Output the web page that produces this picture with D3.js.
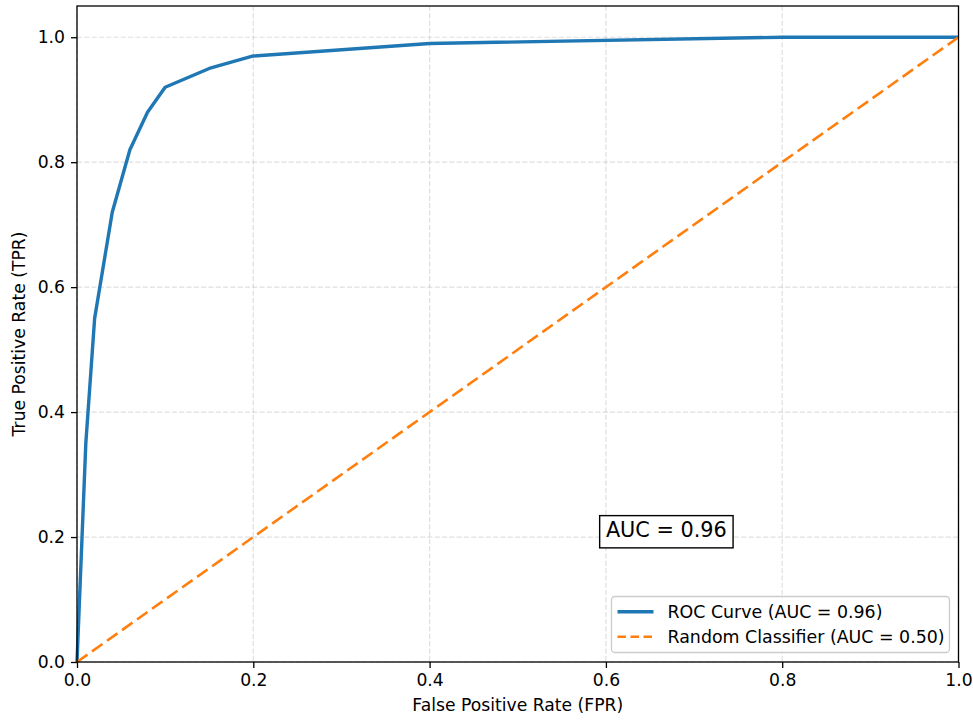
<!DOCTYPE html>
<html>
<head>
<meta charset="utf-8">
<script src="https://cdn.jsdelivr.net/npm/d3@7"></script>
<style>
  body { margin: 0; background: #fff; }
  text { font-family: "DejaVu Sans", sans-serif; fill: #000; }
</style>
</head>
<body>
<svg id="chart" width="973" height="720"></svg>
<script>
// ROC curve operating points
const fpr = [0, 0.01, 0.02, 0.04, 0.06, 0.08, 0.10, 0.15, 0.20, 0.40, 0.80, 1.0];
const tpr = [0, 0.35, 0.55, 0.72, 0.82, 0.88, 0.92, 0.95, 0.97, 0.99, 1.0, 1.0];
// chance diagonal
const randomFpr = [0, 1];
const randomTpr = [0, 1];
// summary values
const rocAuc = 0.96;
const randomAuc = 0.50;
const tickValues = [0, 0.2, 0.4, 0.6, 0.8, 1.0];
const tickLabels = ["0.0", "0.2", "0.4", "0.6", "0.8", "1.0"];
const seriesNames = ["ROC Curve (AUC = " + rocAuc.toFixed(2) + ")",
                     "Random Classifier (AUC = " + randomAuc.toFixed(2) + ")"];
const seriesColors = ["#1f77b4", "#ff7f0e"];

const svg = d3.select("#chart");
const m = { left: 77, right: 958.5, top: 6, bottom: 662 };

const x = d3.scaleLinear().domain([0, 1]).range([m.left, m.right]);
const y = d3.scaleLinear().domain([0, 1.05]).range([m.bottom, m.top]);

// grid
const grid = svg.append("g");
grid.selectAll(".gx").data(tickValues).enter().append("line")
  .attr("x1", d => x(d)).attr("x2", d => x(d))
  .attr("y1", m.top).attr("y2", m.bottom)
  .attr("stroke", "#b0b0b0").attr("stroke-opacity", 0.4)
  .attr("stroke-width", 1.2).attr("stroke-dasharray", "5.1,2.2");
grid.selectAll(".gy").data(tickValues).enter().append("line")
  .attr("y1", d => y(d)).attr("y2", d => y(d))
  .attr("x1", m.left).attr("x2", m.right)
  .attr("stroke", "#b0b0b0").attr("stroke-opacity", 0.4)
  .attr("stroke-width", 1.2).attr("stroke-dasharray", "5.1,2.2");

// axes
const fmt = (d) => tickLabels[tickValues.indexOf(d)];
const xAxis = svg.append("g").attr("transform", `translate(0,${m.bottom})`)
  .call(d3.axisBottom(x).tickValues(tickValues).tickFormat(fmt).tickSize(6).tickPadding(6));
const yAxis = svg.append("g").attr("transform", `translate(${m.left},0)`)
  .call(d3.axisLeft(y).tickValues(tickValues).tickFormat(fmt).tickSize(6).tickPadding(6));
[xAxis, yAxis].forEach(a => {
  a.select(".domain").remove();
  a.selectAll(".tick line").attr("stroke", "#000").attr("stroke-width", 1.3);
  a.selectAll(".tick text").attr("font-size", "17.2px").attr("font-family", "DejaVu Sans").attr("fill", "#000");
});

// curves
const lineGen = d3.line().x(d => x(d[0])).y(d => y(d[1]));

svg.append("path").datum(fpr.map((f, i) => [f, tpr[i]]))
  .attr("d", lineGen).attr("fill", "none")
  .attr("stroke", seriesColors[0]).attr("stroke-width", 3.4)
  .attr("stroke-linejoin", "round").attr("stroke-linecap", "butt");

svg.append("path").datum(randomFpr.map((f, i) => [f, randomTpr[i]]))
  .attr("d", lineGen).attr("fill", "none")
  .attr("stroke", seriesColors[1]).attr("stroke-width", 2.6)
  .attr("stroke-dasharray", "12.8,5.6");

// frame
svg.append("rect").attr("x", m.left).attr("y", m.top)
  .attr("width", m.right - m.left).attr("height", m.bottom - m.top)
  .attr("fill", "none").attr("stroke", "#000").attr("stroke-width", 1.3);

// axis titles
svg.append("text").attr("x", (m.left + m.right) / 2).attr("y", 710.5)
  .attr("text-anchor", "middle").attr("font-size", "17.2px")
  .text("False Positive Rate (FPR)");
svg.append("text")
  .attr("transform", `translate(25,${(m.top + m.bottom) / 2}) rotate(-90)`)
  .attr("text-anchor", "middle").attr("font-size", "17.2px")
  .text("True Positive Rate (TPR)");

// AUC annotation with boxed background
const annFs = 20.8, pad = 0.3 * annFs;
const annX = x(0.6), annY = y(0.2);
const annBox = svg.append("rect");
const ann = svg.append("text").attr("x", annX).attr("y", annY)
  .attr("font-size", annFs + "px").text("AUC = " + rocAuc.toFixed(2));
const annW = ann.node().getComputedTextLength();
annBox.attr("x", annX - pad).attr("y", annY - 0.73 * annFs - pad)
  .attr("width", annW + 2 * pad).attr("height", 0.95 * annFs + 2 * pad)
  .attr("fill", "#fff").attr("stroke", "#000").attr("stroke-width", 1.4);

// legend
const lg = svg.append("g").attr("transform", "translate(611.5,596.5)");
lg.append("rect").attr("width", 338).attr("height", 56).attr("rx", 3.5)
  .attr("fill", "#fff").attr("fill-opacity", 0.8)
  .attr("stroke", "#cccccc").attr("stroke-width", 1.3);
seriesNames.forEach((name, i) => {
  const cy = 15.2 + i * 25;
  lg.append("line").attr("x1", 6).attr("x2", 42).attr("y1", cy).attr("y2", cy)
    .attr("stroke", seriesColors[i]).attr("stroke-width", i === 0 ? 3.4 : 2.6)
    .attr("stroke-dasharray", i === 0 ? null : "8.5,4.5");
  lg.append("text").attr("x", 56).attr("y", cy).attr("dy", "0.36em")
    .attr("font-size", "17.4px").text(name);
});
</script>
</body>
</html>
